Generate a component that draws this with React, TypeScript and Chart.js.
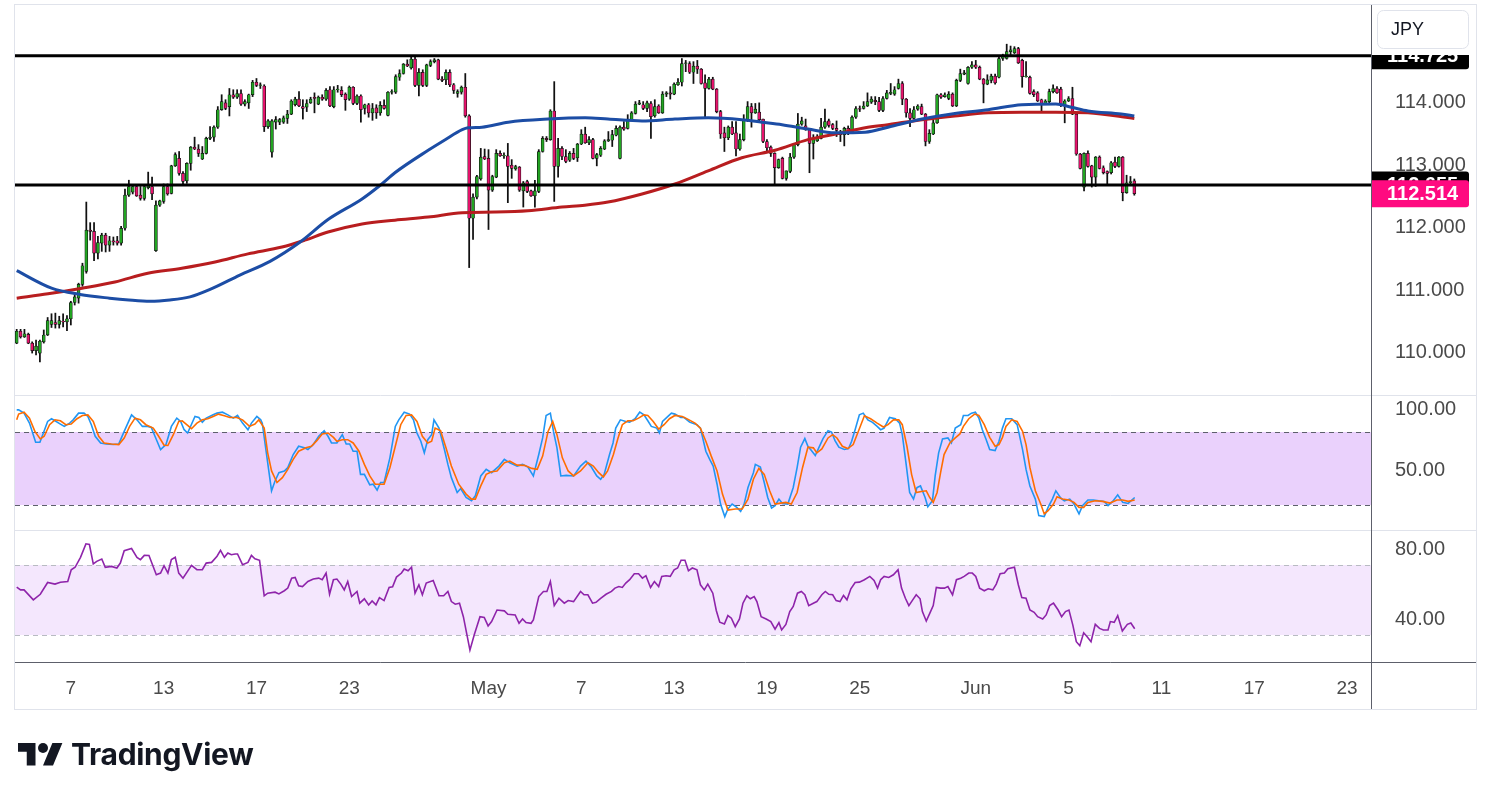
import React, { useEffect, useRef } from 'react';
import { Chart, registerables } from 'chart.js';

Chart.register(...registerables);

// ---------- 4h candles (index 0 = first visible bar) ----------
const candleOpen = [
  110.12, 110.31, 110.22, 110.26, 110.12, 110.00, 109.96, 110.14, 110.25, 110.42,
  110.45, 110.42, 110.47, 110.46, 110.51, 110.77, 110.84, 111.06, 111.27, 111.93,
  111.91, 111.56, 111.72, 111.85, 111.69, 111.76, 111.76, 111.72, 111.96, 112.49,
  112.54, 112.63, 112.49, 112.44, 112.61, 112.63, 111.60, 112.33, 112.39, 112.63,
  112.52, 112.96, 113.08, 112.84, 112.72, 113.00, 113.26, 113.23, 113.07, 113.16,
  113.40, 113.42, 113.58, 113.86, 113.97, 113.91, 114.10, 114.06, 114.12, 113.95,
  113.97, 114.10, 114.30, 114.25, 114.24, 113.59, 113.18, 113.66, 113.66, 113.66,
  113.72, 113.79, 113.94, 114.03, 113.91, 113.90, 113.97, 114.06, 113.95, 114.06,
  114.03, 114.18, 113.91, 114.18, 114.17, 114.11, 114.03, 114.22, 113.96, 114.08,
  113.88, 113.94, 113.81, 113.89, 113.81, 113.93, 113.77, 114.14, 114.14, 114.38,
  114.44, 114.59, 114.53, 114.67, 114.25, 114.46, 114.25, 114.57, 114.63, 114.66,
  114.35, 114.34, 114.46, 114.26, 114.12, 114.14, 114.22, 113.76, 112.12, 112.46,
  112.75, 113.11, 113.08, 112.57, 112.78, 113.16, 113.12, 113.12, 112.97, 112.91,
  112.94, 112.56, 112.71, 112.56, 112.48, 112.55, 113.19, 113.40, 113.38, 113.84,
  112.95, 113.24, 113.11, 113.05, 113.16, 113.09, 113.31, 113.47, 113.33, 113.38,
  113.08, 113.13, 113.23, 113.36, 113.37, 113.45, 113.08, 113.58, 113.56, 113.70,
  113.80, 113.95, 113.94, 113.88, 113.96, 113.76, 113.92, 113.81, 114.11, 114.13,
  114.11, 114.26, 114.30, 114.60, 114.60, 114.46, 114.56, 114.51, 114.29, 114.20,
  114.35, 114.19, 113.83, 113.49, 113.41, 113.58, 113.49, 113.23, 113.38, 113.69,
  113.91, 113.81, 113.82, 113.71, 113.35, 113.26, 113.16, 112.93, 113.08, 112.76,
  112.87, 113.10, 113.30, 113.63, 113.60, 113.55, 113.32, 113.36, 113.40, 113.58,
  113.68, 113.62, 113.56, 113.49, 113.46, 113.56, 113.50, 113.74, 113.88, 113.88,
  113.92, 113.98, 114.01, 113.99, 113.85, 114.04, 114.12, 114.11, 114.20, 114.28,
  114.03, 113.81, 113.72, 113.87, 113.91, 113.79, 113.35, 113.47, 113.65, 114.10,
  114.07, 114.04, 114.11, 113.92, 114.33, 114.43, 114.28, 114.54, 114.58, 114.54,
  114.35, 114.27, 114.33, 114.40, 114.38, 114.68, 114.68, 114.79, 114.77, 114.84,
  114.65, 114.39, 114.38, 114.15, 114.13, 114.02, 113.96, 113.99, 114.15, 114.20,
  114.19, 113.93, 114.00, 114.04, 113.79, 113.15, 112.62, 113.16, 112.96, 112.78,
  113.10, 112.93, 112.87, 112.85, 113.02, 112.95, 113.10, 112.53, 112.69, 112.72,
];
const candleHigh = [
  110.34, 110.34, 110.34, 110.28, 110.14, 110.17, 110.17, 110.33, 110.53, 110.59,
  110.60, 110.55, 110.59, 110.56, 110.79, 110.92, 111.08, 111.40, 112.38, 112.05,
  112.05, 111.83, 111.88, 111.88, 111.83, 111.82, 111.83, 111.99, 112.59, 112.73,
  112.65, 112.65, 112.63, 112.65, 112.86, 112.78, 112.40, 112.41, 112.67, 112.67,
  112.97, 113.17, 113.19, 112.87, 113.01, 113.27, 113.42, 113.30, 113.27, 113.42,
  113.59, 113.60, 113.91, 114.10, 114.02, 114.20, 114.18, 114.18, 114.18, 114.02,
  114.11, 114.33, 114.36, 114.29, 114.26, 113.70, 113.70, 113.75, 113.72, 113.76,
  113.85, 114.02, 114.06, 114.15, 114.02, 114.02, 114.06, 114.13, 114.08, 114.10,
  114.20, 114.23, 114.23, 114.25, 114.23, 114.13, 114.24, 114.23, 114.10, 114.10,
  113.95, 113.96, 113.96, 113.94, 113.99, 114.02, 114.15, 114.18, 114.42, 114.50,
  114.60, 114.66, 114.71, 114.71, 114.52, 114.50, 114.59, 114.66, 114.68, 114.67,
  114.39, 114.50, 114.50, 114.28, 114.18, 114.24, 114.44, 113.78, 112.51, 112.81,
  113.24, 113.23, 113.22, 112.81, 113.22, 113.20, 113.17, 113.32, 113.06, 112.97,
  112.95, 112.71, 112.73, 112.57, 112.73, 113.22, 113.43, 113.43, 113.86, 114.31,
  113.40, 113.27, 113.22, 113.19, 113.24, 113.32, 113.54, 113.58, 113.43, 113.40,
  113.16, 113.27, 113.38, 113.51, 113.53, 113.60, 113.60, 113.67, 113.78, 113.83,
  113.99, 114.01, 113.99, 114.00, 113.99, 114.02, 113.94, 114.15, 114.15, 114.23,
  114.29, 114.36, 114.68, 114.65, 114.63, 114.63, 114.65, 114.52, 114.42, 114.38,
  114.38, 114.20, 113.85, 113.58, 113.60, 113.67, 113.67, 113.47, 113.78, 113.99,
  113.96, 113.96, 113.97, 113.71, 113.38, 113.28, 113.17, 113.07, 113.10, 112.88,
  113.16, 113.31, 113.80, 113.74, 113.71, 113.56, 113.46, 113.46, 113.72, 113.87,
  113.71, 113.64, 113.68, 113.53, 113.58, 113.60, 113.76, 113.91, 113.92, 113.99,
  114.13, 114.07, 114.07, 114.06, 114.07, 114.17, 114.28, 114.23, 114.35, 114.31,
  114.04, 113.88, 113.91, 113.94, 113.95, 113.80, 113.54, 113.70, 114.11, 114.12,
  114.13, 114.15, 114.13, 114.35, 114.51, 114.49, 114.55, 114.63, 114.65, 114.56,
  114.36, 114.42, 114.43, 114.43, 114.72, 114.75, 114.91, 114.88, 114.87, 114.86,
  114.67, 114.63, 114.40, 114.18, 114.15, 114.03, 114.02, 114.19, 114.26, 114.23,
  114.22, 114.02, 114.07, 114.22, 113.80, 113.16, 113.17, 113.20, 112.97, 113.11,
  113.12, 112.96, 112.88, 113.03, 113.10, 113.11, 113.11, 112.81, 112.79, 112.75,
];
const candleLow = [
  110.11, 110.20, 110.21, 110.11, 109.96, 109.93, 109.82, 110.12, 110.24, 110.37,
  110.36, 110.36, 110.38, 110.32, 110.41, 110.73, 110.76, 111.03, 111.24, 111.77,
  111.44, 111.47, 111.59, 111.58, 111.59, 111.69, 111.69, 111.69, 111.93, 112.47,
  112.51, 112.47, 112.41, 112.41, 112.59, 112.42, 111.59, 112.31, 112.36, 112.49,
  112.51, 112.95, 112.81, 112.67, 112.68, 112.89, 113.22, 113.11, 113.06, 113.15,
  113.38, 113.35, 113.56, 113.85, 113.86, 113.76, 114.04, 114.04, 113.93, 113.92,
  113.88, 114.07, 114.23, 114.20, 113.51, 113.56, 113.10, 113.55, 113.62, 113.64,
  113.64, 113.78, 113.92, 113.91, 113.71, 113.83, 113.96, 113.81, 113.94, 114.01,
  114.01, 113.91, 113.89, 114.14, 114.07, 113.85, 114.01, 113.94, 113.94, 113.66,
  113.79, 113.74, 113.69, 113.72, 113.77, 113.87, 113.76, 114.11, 114.12, 114.33,
  114.43, 114.55, 114.51, 114.23, 114.08, 114.23, 114.23, 114.55, 114.61, 114.34,
  114.31, 114.26, 114.23, 114.12, 114.06, 114.11, 113.74, 111.33, 111.78, 112.43,
  112.73, 113.06, 111.94, 112.55, 112.77, 113.11, 113.08, 112.37, 112.76, 112.89,
  112.55, 112.30, 112.53, 112.47, 112.30, 112.53, 113.18, 113.35, 113.37, 112.39,
  112.78, 113.06, 113.01, 113.03, 113.06, 113.03, 113.30, 113.32, 113.30, 113.07,
  112.96, 113.11, 113.22, 113.35, 113.27, 113.44, 113.07, 113.53, 113.55, 113.69,
  113.79, 113.94, 113.86, 113.83, 113.40, 113.74, 113.80, 113.80, 114.07, 114.03,
  114.10, 114.25, 114.24, 114.47, 114.44, 114.28, 114.44, 114.27, 113.75, 114.19,
  114.18, 113.81, 113.40, 113.19, 113.38, 113.46, 113.12, 113.21, 113.36, 113.67,
  113.58, 113.80, 113.68, 113.33, 113.17, 113.11, 112.67, 112.92, 112.75, 112.73,
  112.85, 113.08, 113.28, 113.61, 113.53, 112.85, 113.07, 113.35, 113.39, 113.56,
  113.58, 113.54, 113.43, 113.35, 113.28, 113.46, 113.48, 113.72, 113.83, 113.87,
  113.91, 113.96, 113.94, 113.83, 113.83, 114.03, 114.10, 114.09, 114.19, 113.94,
  113.74, 113.59, 113.71, 113.85, 113.78, 113.28, 113.32, 113.46, 113.64, 114.04,
  114.06, 114.02, 113.91, 113.91, 114.31, 114.42, 114.27, 114.52, 114.52, 114.34,
  113.97, 114.26, 114.29, 114.27, 114.37, 114.65, 114.67, 114.74, 114.76, 114.60,
  114.22, 114.38, 114.11, 114.07, 113.99, 113.83, 113.95, 113.97, 114.13, 114.12,
  113.91, 113.65, 113.99, 113.78, 113.13, 112.91, 112.56, 112.94, 112.62, 112.63,
  112.91, 112.83, 112.67, 112.83, 112.93, 112.94, 112.40, 112.52, 112.67, 112.49,
];
const candleClose = [
  110.31, 110.22, 110.27, 110.12, 110.00, 110.07, 110.15, 110.25, 110.48, 110.48,
  110.42, 110.48, 110.46, 110.51, 110.77, 110.86, 111.06, 111.36, 111.93, 111.91,
  111.56, 111.73, 111.85, 111.69, 111.76, 111.74, 111.72, 111.96, 112.49, 112.63,
  112.63, 112.48, 112.44, 112.63, 112.64, 112.51, 112.33, 112.40, 112.63, 112.51,
  112.96, 113.14, 112.84, 112.71, 113.00, 113.26, 113.23, 113.16, 113.16, 113.40,
  113.42, 113.58, 113.86, 113.99, 113.88, 114.10, 114.06, 114.12, 113.95, 113.99,
  114.10, 114.30, 114.25, 114.26, 113.59, 113.68, 113.68, 113.70, 113.70, 113.73,
  113.79, 114.00, 114.03, 113.92, 113.88, 113.96, 114.03, 114.04, 114.06, 114.03,
  114.17, 113.92, 114.18, 114.19, 114.10, 114.02, 114.22, 113.96, 114.08, 113.86,
  113.94, 113.81, 113.88, 113.81, 113.93, 113.88, 114.14, 114.15, 114.39, 114.44,
  114.59, 114.56, 114.67, 114.25, 114.46, 114.25, 114.58, 114.63, 114.66, 114.35,
  114.33, 114.46, 114.26, 114.17, 114.15, 114.22, 113.76, 112.12, 112.46, 112.79,
  113.10, 113.07, 112.57, 112.79, 113.16, 113.12, 113.13, 112.95, 112.92, 112.95,
  112.57, 112.69, 112.55, 112.48, 112.56, 113.19, 113.40, 113.38, 113.84, 112.95,
  113.24, 113.11, 113.03, 113.16, 113.08, 113.31, 113.47, 113.33, 113.38, 113.08,
  113.14, 113.24, 113.36, 113.38, 113.46, 113.56, 113.58, 113.55, 113.71, 113.81,
  113.95, 113.97, 113.88, 113.97, 113.75, 113.91, 113.81, 114.11, 114.13, 114.11,
  114.27, 114.30, 114.60, 114.61, 114.46, 114.56, 114.51, 114.28, 114.20, 114.35,
  114.19, 113.83, 113.47, 113.41, 113.58, 113.47, 113.23, 113.38, 113.70, 113.91,
  113.81, 113.87, 113.70, 113.35, 113.25, 113.16, 112.93, 113.06, 112.76, 112.88,
  113.10, 113.30, 113.63, 113.68, 113.54, 113.32, 113.38, 113.41, 113.58, 113.67,
  113.61, 113.56, 113.53, 113.46, 113.56, 113.47, 113.74, 113.88, 113.87, 113.92,
  113.99, 114.03, 113.99, 113.85, 114.04, 114.13, 114.14, 114.18, 114.28, 114.03,
  113.81, 113.72, 113.86, 113.92, 113.79, 113.35, 113.48, 113.65, 114.10, 114.06,
  114.10, 114.11, 113.92, 114.33, 114.44, 114.45, 114.54, 114.58, 114.54, 114.35,
  114.27, 114.34, 114.40, 114.29, 114.68, 114.72, 114.79, 114.82, 114.84, 114.61,
  114.39, 114.40, 114.12, 114.10, 114.00, 113.96, 114.00, 114.15, 114.20, 114.13,
  113.93, 114.00, 114.04, 113.79, 113.15, 112.92, 113.16, 112.95, 112.78, 113.10,
  112.92, 112.85, 112.84, 113.01, 112.95, 113.10, 112.53, 112.69, 112.71, 112.514,
];

// ---------- moving averages (bar index, price) ----------
const blueMaIdx = [0, 9, 16.4, 24, 29, 34.5, 39.6, 44.8, 50, 57.7, 65.5, 73.3, 80.5, 89.3, 94, 97.8, 106.4, 110.8, 115.2, 116.7, 120.3, 127.1, 137.4, 147, 152.9, 161.7, 170.2, 178.8, 187.5, 192.7, 197.9, 204.6, 211.6, 219.4, 225.3, 234.1, 242.6, 251.2, 259.9, 268.7, 272.7, 277, 285.6, 289];
const blueMa = [111.28, 111.00, 110.90, 110.84, 110.81, 110.79, 110.81, 110.86, 110.98, 111.21, 111.43, 111.74, 112.10, 112.43, 112.65, 112.85, 113.21, 113.38, 113.54, 113.57, 113.58, 113.66, 113.71, 113.73, 113.71, 113.68, 113.71, 113.73, 113.70, 113.66, 113.62, 113.55, 113.49, 113.50, 113.58, 113.71, 113.80, 113.86, 113.94, 113.95, 113.90, 113.84, 113.79, 113.76];
const redMaIdx = [0, 8.1, 16.9, 25.4, 33.9, 42.7, 51.3, 59.8, 68.6, 74.5, 80.5, 89.3, 97.8, 106.4, 115.2, 123.7, 132.2, 141, 146.9, 152.9, 161.7, 170.2, 178.8, 187.5, 196.1, 204.6, 213.4, 219.4, 225.3, 234.1, 242.6, 251.2, 259.9, 268.7, 277, 289];
const redMa = [110.84, 110.91, 111.00, 111.10, 111.24, 111.32, 111.42, 111.55, 111.66, 111.77, 111.90, 112.03, 112.09, 112.14, 112.21, 112.22, 112.24, 112.30, 112.33, 112.38, 112.51, 112.67, 112.88, 113.09, 113.21, 113.38, 113.49, 113.57, 113.62, 113.70, 113.76, 113.81, 113.82, 113.82, 113.81, 113.72];

// ---------- stochastic ----------
const stochKIdx = [0, 0.5, 1.9, 3.3, 4.9, 6.0, 6.9, 8.0, 9.0, 9.9, 11.3, 12.3, 13.7, 14.6, 16.0, 17.4, 18.4, 19.3, 20.3, 21.7, 23.1, 25.0, 26.4, 27.8, 29.7, 31.1, 32.5, 33.9, 34.8, 36.3, 37.2, 38.6, 40.0, 41.4, 42.4, 43.3, 44.2, 46.1, 47.1, 48.0, 49.0, 50.8, 51.8, 53.2, 54.6, 56.0, 57.1, 58.4, 59.8, 60.7, 62.1, 63.1, 63.5, 65.9, 66.8, 67.8, 69.2, 70.1, 71.5, 72.9, 74.4, 75.3, 76.7, 78.1, 79.5, 80.5, 81.4, 82.8, 84.2, 85.2, 86.1, 87.0, 88.0, 88.9, 89.9, 91.3, 92.2, 93.2, 94.1, 95.0, 96.5, 97.9, 98.8, 100.2, 101.6, 102.6, 103.5, 104.5, 105.4, 106.3, 107.3, 107.9, 109.2, 110.6, 111.5, 112.4, 113.9, 114.8, 116.2, 117.6, 118.6, 120.0, 121.4, 122.8, 124.7, 126.1, 127.5, 129.4, 130.8, 132.2, 133.6, 135.0, 136.0, 136.9, 138.0, 138.8, 139.7, 140.7, 142.1, 144.0, 145.8, 147.2, 148.6, 150.0, 151.0, 151.9, 153.3, 154.2, 154.9, 156.1, 157.5, 158.5, 159.9, 161.1, 162.2, 163.2, 164.1, 165.5, 166.2, 167.0, 168.4, 169.3, 170.2, 171.7, 172.6, 174.0, 175.9, 176.8, 178.2, 179.2, 180.1, 181.1, 182.0, 183.1, 183.9, 185.0, 186.2, 187.2, 188.1, 189.1, 190.5, 191.0, 192.3, 193.3, 194.2, 195.2, 196.1, 197.1, 198.0, 199.4, 200.8, 201.8, 202.7, 203.8, 204.6, 205.5, 206.5, 207.4, 208.5, 209.8, 210.7, 211.6, 212.6, 214.0, 215.1, 215.9, 216.8, 217.9, 218.9, 220.1, 221.3, 222.5, 223.4, 224.3, 225.7, 227.2, 228.3, 229.0, 230.0, 230.9, 231.9, 232.8, 233.7, 234.9, 235.6, 236.8, 237.5, 238.4, 239.4, 240.8, 241.7, 242.7, 244.1, 244.8, 246.0, 246.9, 247.9, 248.8, 249.7, 250.7, 251.6, 253.0, 254.0, 254.9, 255.8, 257.3, 258.7, 260.1, 261.0, 262.0, 263.4, 264.3, 265.7, 266.7, 267.8, 268.7, 270.0, 270.9, 272.3, 273.4, 274.7, 275.6, 277.0, 278.4, 279.8, 281.2, 282.2, 283.4, 284.7, 286.0, 287.4, 289.1];
const stochK = [98.2, 98.2, 95.5, 87.3, 71.6, 71.6, 79.2, 88.7, 90.9, 89.2, 86.5, 84.6, 87.3, 90.0, 95.5, 95.5, 92.8, 86.0, 76.5, 71.0, 70.2, 69.7, 70.2, 80.5, 94.1, 90.0, 84.6, 84.6, 83.8, 72.4, 65.6, 69.7, 84.6, 91.4, 88.7, 81.9, 79.2, 92.8, 91.9, 88.1, 91.4, 94.1, 95.5, 96.3, 94.1, 91.4, 93.6, 87.3, 81.9, 87.3, 92.8, 90.0, 87.3, 31.7, 39.8, 46.6, 48.0, 50.7, 61.5, 68.3, 67.0, 65.6, 69.7, 76.5, 81.1, 76.5, 71.0, 71.0, 77.8, 70.2, 70.2, 64.2, 64.2, 45.2, 45.2, 36.6, 37.1, 32.2, 38.5, 38.5, 58.8, 84.6, 90.0, 96.3, 94.7, 90.0, 79.2, 72.4, 62.9, 73.7, 77.8, 90.0, 83.2, 65.6, 53.4, 42.5, 30.3, 33.6, 26.2, 23.5, 27.6, 43.9, 49.3, 46.6, 52.0, 57.5, 54.7, 52.0, 53.4, 51.2, 43.9, 61.5, 75.1, 93.6, 95.5, 80.5, 67.0, 43.9, 44.4, 43.9, 52.0, 56.1, 51.2, 43.9, 41.2, 45.2, 61.5, 71.0, 83.2, 90.0, 88.7, 88.1, 90.9, 96.3, 94.1, 89.2, 84.6, 83.2, 79.2, 88.7, 92.8, 95.5, 94.7, 91.9, 91.9, 88.1, 86.0, 83.2, 64.2, 57.5, 52.0, 37.1, 20.8, 10.5, 16.7, 20.8, 18.1, 14.8, 20.8, 34.4, 46.6, 53.4, 51.2, 38.5, 26.2, 17.5, 19.5, 24.9, 21.3, 20.8, 34.4, 50.7, 67.5, 74.6, 68.3, 64.8, 60.7, 67.0, 74.6, 81.1, 80.0, 72.9, 67.5, 65.6, 66.4, 72.4, 81.9, 94.1, 95.5, 90.0, 87.9, 84.6, 81.9, 83.2, 91.9, 90.9, 87.3, 77.8, 53.4, 30.3, 24.9, 34.4, 35.7, 26.2, 18.6, 23.5, 43.9, 62.9, 74.3, 75.1, 71.0, 83.2, 86.0, 93.6, 93.6, 95.5, 96.3, 91.4, 81.9, 73.7, 65.6, 64.8, 72.4, 83.2, 90.9, 90.9, 86.0, 65.6, 49.3, 35.7, 24.9, 11.3, 10.5, 18.1, 24.9, 31.7, 25.7, 23.5, 24.9, 20.8, 12.7, 19.5, 24.1, 24.1, 23.5, 23.0, 19.5, 23.0, 28.4, 22.2, 21.3, 26.2];
const stochDIdx = [0, 0.5, 1.9, 3.3, 4.7, 6.1, 7.1, 8.5, 9.9, 11.3, 12.7, 14.1, 15.6, 17.0, 18.4, 19.8, 21.2, 22.6, 24.5, 26.4, 27.8, 29.2, 30.6, 32.0, 33.4, 35.3, 36.7, 38.1, 39.1, 40.5, 41.9, 42.8, 44.2, 45.2, 46.6, 48.0, 49.4, 50.8, 52.2, 53.7, 55.1, 56.9, 58.4, 60.2, 61.6, 62.6, 64.0, 64.9, 65.9, 67.3, 68.7, 70.1, 71.5, 72.9, 74.8, 76.2, 77.6, 79.0, 80.5, 81.9, 82.8, 84.2, 85.6, 87.0, 88.5, 89.9, 91.3, 92.7, 94.1, 95.0, 96.5, 97.9, 99.3, 100.7, 102.1, 103.5, 104.9, 106.3, 107.3, 108.2, 109.6, 111.0, 112.4, 114.3, 116.2, 117.6, 118.6, 120.0, 121.4, 122.8, 124.2, 126.1, 127.5, 129.4, 131.3, 133.2, 134.6, 136.0, 137.4, 138.6, 139.7, 141.1, 142.6, 144.0, 145.8, 147.7, 149.1, 150.5, 151.7, 152.8, 154.3, 155.5, 156.6, 158.0, 159.4, 160.8, 162.2, 163.2, 164.6, 166.0, 167.4, 168.8, 170.2, 172.1, 173.5, 175.4, 176.8, 178.2, 179.6, 181.1, 182.5, 183.9, 185.8, 187.6, 189.1, 190.5, 191.9, 193.3, 194.7, 196.1, 197.5, 198.9, 200.3, 201.8, 203.2, 204.6, 206.0, 206.9, 208.2, 209.8, 211.0, 212.1, 213.5, 214.9, 216.3, 217.8, 219.2, 220.8, 222.5, 224.1, 225.3, 226.7, 228.1, 229.0, 230.2, 231.4, 232.6, 233.9, 235.2, 236.1, 237.0, 238.0, 238.9, 239.8, 241.3, 242.7, 243.9, 244.8, 246.2, 247.7, 248.8, 250.2, 251.6, 253.0, 254.0, 254.9, 255.8, 257.3, 258.7, 260.1, 261.0, 262.0, 263.4, 264.8, 265.7, 266.7, 268.1, 269.0, 270.4, 272.1, 273.4, 274.7, 275.9, 277.0, 278.9, 280.8, 282.7, 284.5, 286.0, 287.4, 289.1];
const stochD = [90.0, 94.7, 96.3, 91.4, 80.5, 74.3, 76.5, 86.0, 90.0, 89.2, 86.0, 86.5, 90.9, 93.6, 94.1, 88.7, 76.5, 71.0, 70.2, 69.7, 75.1, 84.6, 91.4, 90.0, 86.0, 83.2, 76.5, 69.1, 68.9, 77.8, 88.7, 89.2, 85.4, 82.7, 87.3, 90.0, 90.9, 92.8, 94.7, 93.3, 91.9, 91.9, 90.0, 84.6, 86.5, 90.0, 83.2, 62.9, 48.0, 38.5, 42.5, 49.3, 57.5, 64.2, 67.0, 68.3, 72.9, 78.4, 79.2, 75.6, 72.4, 73.7, 73.7, 71.0, 64.2, 53.4, 43.9, 37.1, 37.1, 37.1, 50.7, 68.3, 86.0, 93.6, 94.1, 88.7, 76.5, 71.0, 72.4, 83.2, 81.1, 67.0, 52.0, 37.1, 29.0, 24.9, 24.9, 35.7, 45.2, 47.4, 48.0, 54.7, 56.1, 52.8, 52.6, 50.1, 49.3, 60.2, 80.5, 88.7, 77.8, 58.8, 48.0, 43.9, 48.0, 54.7, 52.0, 46.6, 43.1, 48.0, 61.5, 75.1, 86.0, 89.2, 89.2, 91.4, 94.1, 93.6, 88.7, 82.4, 86.0, 90.9, 93.6, 92.8, 90.6, 87.3, 83.2, 72.4, 60.2, 48.0, 29.0, 15.9, 16.7, 16.7, 24.9, 41.2, 50.1, 45.2, 31.7, 20.8, 21.6, 22.2, 20.8, 30.3, 50.7, 67.5, 67.0, 62.9, 66.1, 75.1, 77.8, 75.1, 68.3, 66.4, 69.7, 81.9, 93.3, 90.9, 87.3, 84.1, 86.0, 90.0, 90.0, 86.0, 68.3, 45.2, 30.3, 31.1, 31.7, 26.2, 22.2, 30.3, 46.6, 61.5, 71.0, 75.1, 78.4, 84.6, 90.9, 94.7, 93.6, 86.0, 75.6, 68.3, 69.7, 75.6, 84.6, 90.0, 88.7, 80.5, 69.7, 50.7, 31.7, 20.8, 12.7, 15.4, 20.8, 26.8, 24.9, 24.1, 22.2, 18.1, 18.1, 22.2, 23.5, 23.0, 21.6, 24.1, 24.1, 23.0, 24.1];

// ---------- RSI ----------
const rsiIdx = [0, 1.0, 1.9, 4.3, 6.1, 8.0, 9.9, 11.3, 13.2, 14.1, 15.1, 16.5, 17.9, 18.8, 19.8, 20.7, 22.0, 22.9, 24.5, 25.9, 26.8, 27.8, 29.7, 31.1, 32.0, 33.0, 34.2, 36.1, 37.2, 38.1, 39.1, 40.0, 41.0, 41.9, 43.0, 45.2, 46.6, 48.0, 49.0, 50.4, 51.8, 52.7, 53.7, 54.6, 55.5, 56.5, 57.1, 58.4, 59.8, 60.7, 61.6, 62.8, 64.0, 64.9, 66.8, 67.8, 69.2, 70.1, 71.1, 72.0, 72.9, 73.9, 75.3, 76.7, 78.1, 79.0, 80.0, 80.9, 81.9, 82.8, 83.8, 84.7, 85.6, 86.6, 88.0, 88.7, 89.9, 91.0, 91.9, 92.9, 93.8, 95.0, 96.3, 97.2, 98.2, 99.5, 100.2, 101.2, 102.1, 103.0, 104.0, 104.9, 105.9, 107.7, 109.2, 110.4, 111.5, 112.4, 113.4, 114.5, 115.5, 117.2, 118.3, 119.8, 120.9, 121.9, 122.8, 124.2, 126.1, 127.0, 128.9, 129.9, 130.8, 131.7, 133.0, 133.6, 135.0, 136.2, 137.1, 138.0, 139.0, 140.2, 141.6, 142.6, 144.0, 145.8, 146.7, 147.7, 148.9, 149.8, 151.0, 152.4, 153.8, 154.7, 155.7, 156.6, 157.5, 158.5, 159.7, 160.8, 161.8, 162.7, 163.9, 164.9, 166.0, 166.8, 167.9, 169.0, 170.0, 170.9, 171.8, 172.8, 173.7, 174.7, 175.9, 176.8, 177.8, 178.7, 180.0, 180.9, 181.8, 183.0, 183.9, 184.8, 185.8, 186.9, 187.8, 188.8, 189.7, 190.7, 191.4, 192.5, 193.8, 195.0, 196.1, 197.1, 197.8, 198.9, 199.9, 200.8, 201.9, 202.9, 203.8, 204.8, 206.0, 206.9, 208.2, 209.1, 210.0, 211.0, 211.9, 212.9, 213.8, 214.7, 215.7, 216.8, 217.9, 219.2, 220.6, 221.7, 222.6, 223.4, 224.3, 225.5, 226.7, 227.9, 228.8, 229.8, 230.7, 231.7, 232.6, 233.6, 234.2, 235.2, 236.1, 237.0, 237.8, 238.9, 239.9, 240.8, 242.0, 243.0, 244.1, 245.0, 246.2, 247.1, 248.0, 249.0, 250.2, 251.2, 252.4, 253.3, 254.3, 255.4, 256.3, 258.0, 259.0, 259.9, 261.0, 262.0, 263.1, 264.0, 265.3, 266.2, 267.1, 268.1, 269.3, 270.2, 271.2, 272.1, 273.1, 274.0, 274.9, 275.9, 276.8, 277.8, 278.9, 280.0, 281.0, 282.2, 282.8, 283.8, 284.7, 285.9, 287.2, 288.1, 289.1];
const rsiVals = [57.4, 55.8, 55.8, 50.1, 53.3, 60.0, 59.1, 60.2, 60.6, 67.3, 68.7, 74.4, 82.1, 81.7, 70.6, 72.1, 73.4, 68.7, 69.2, 68.3, 71.1, 78.2, 79.4, 74.4, 73.1, 75.5, 75.4, 64.4, 65.4, 69.6, 65.4, 73.1, 74.4, 65.4, 62.5, 69.8, 67.3, 67.3, 71.1, 71.5, 75.0, 78.4, 74.4, 76.9, 75.9, 76.3, 76.3, 70.2, 71.5, 75.5, 73.6, 72.7, 52.4, 53.9, 54.5, 53.5, 55.3, 56.8, 62.5, 62.9, 58.1, 57.7, 60.6, 62.0, 62.5, 61.6, 65.4, 53.3, 61.6, 62.0, 59.1, 55.8, 60.6, 52.0, 54.9, 48.2, 50.7, 47.2, 49.5, 47.2, 51.4, 49.7, 57.2, 57.6, 63.1, 65.4, 67.7, 66.7, 68.7, 53.9, 58.7, 53.0, 59.7, 61.2, 52.4, 52.4, 54.9, 49.1, 47.6, 48.2, 40.5, 21.4, 30.0, 40.5, 40.1, 35.2, 37.7, 44.3, 43.8, 41.9, 41.5, 36.7, 39.2, 37.1, 36.7, 38.6, 52.0, 54.9, 54.9, 60.6, 46.8, 51.0, 48.2, 49.7, 49.1, 54.9, 53.0, 53.0, 48.2, 48.7, 51.0, 53.3, 54.9, 56.8, 57.7, 57.2, 59.7, 61.6, 65.0, 65.0, 62.5, 63.9, 57.2, 60.6, 57.7, 63.5, 63.9, 63.5, 67.3, 68.3, 72.7, 72.7, 66.7, 68.3, 67.3, 58.7, 55.8, 59.1, 53.9, 44.0, 37.3, 36.3, 41.1, 39.6, 34.8, 39.2, 48.2, 52.4, 50.7, 52.0, 49.1, 40.5, 39.2, 37.7, 33.4, 37.1, 32.9, 36.1, 43.4, 46.3, 53.9, 54.9, 53.0, 46.8, 48.2, 49.1, 53.0, 54.9, 53.3, 53.0, 49.7, 49.1, 52.6, 50.1, 56.4, 60.0, 60.2, 61.6, 63.5, 61.2, 56.8, 61.6, 63.5, 62.9, 64.4, 67.3, 56.8, 51.0, 46.8, 50.1, 53.0, 50.7, 43.4, 38.0, 42.4, 46.8, 57.2, 56.8, 56.8, 57.7, 53.0, 61.6, 62.5, 63.5, 65.4, 65.4, 63.5, 56.8, 55.3, 56.4, 55.8, 59.1, 65.0, 65.4, 67.9, 68.7, 58.7, 51.4, 51.0, 44.3, 43.0, 40.5, 39.2, 41.5, 46.8, 48.2, 44.3, 40.5, 43.4, 44.3, 35.7, 26.2, 23.9, 31.3, 29.0, 26.2, 36.1, 33.8, 32.9, 32.9, 37.7, 37.3, 41.1, 32.3, 36.1, 36.9, 33.6];

// ---------- axes / levels ----------
const dayTickIdx = [14, 38, 62, 86, 122, 146, 170, 194, 218, 248, 272, 296, 320, 344];
const dayTickLabels = ['7', '13', '17', '23', 'May', '7', '13', '19', '25', 'Jun', '5', '11', '17', '23'];
const priceTicks = [110, 111, 112, 113, 114];
const stochTicks = [50, 100];
const rsiTicks = [40, 80];
const resistanceLevel = 114.725;
const supportLevel = 112.655;
const lastPrice = 112.514;
const stochBand = [20, 80];
const rsiBand = [30, 70];
const currencyLabel = 'JPY';

const X_MIN = -0.44;
const X_MAX = 350.2;
const FONT = "'Liberation Sans', Arial, sans-serif";
const AXIS_TEXT = '#4A4A4A';
const AXIS_W = 105;
const XAXIS_H = 47;
const UP = '#22A522';
const DOWN = '#E8136D';
const PINK_TAG = '#FF0A80';

function hLine(ctx: CanvasRenderingContext2D, x0: number, x1: number, y: number) {
  ctx.beginPath();
  ctx.moveTo(x0, y);
  ctx.lineTo(x1, y);
  ctx.stroke();
}

function rrect(ctx: CanvasRenderingContext2D, x: number, y: number, w: number, h: number, r: number[] | number) {
  ctx.beginPath();
  if ((ctx as any).roundRect) (ctx as any).roundRect(x, y, w, h, r);
  else ctx.rect(x, y, w, h);
}

const panePlugin = {
  id: 'tvPanes',
  beforeDatasetsDraw(chart: any) {
    const { ctx, chartArea: ca, scales } = chart;
    const ys = scales.yStoch;
    const yr = scales.yRsi;
    const w = ca.right - ca.left;
    ctx.save();
    const sTop = ys.getPixelForValue(stochBand[1]);
    const sBot = ys.getPixelForValue(stochBand[0]);
    ctx.fillStyle = '#EAD1FC';
    ctx.fillRect(ca.left, sTop, w, sBot - sTop);
    const rTop = yr.getPixelForValue(rsiBand[1]);
    const rBot = yr.getPixelForValue(rsiBand[0]);
    ctx.fillStyle = '#F4E7FD';
    ctx.fillRect(ca.left, rTop, w, rBot - rTop);
    ctx.lineWidth = 1;
    ctx.setLineDash([5, 4]);
    ctx.strokeStyle = '#5D606B';
    hLine(ctx, ca.left, ca.right, Math.round(sTop) + 0.5);
    hLine(ctx, ca.left, ca.right, Math.round(sBot) + 0.5);
    ctx.strokeStyle = '#B8BBC2';
    hLine(ctx, ca.left, ca.right, Math.round(rTop) + 0.5);
    hLine(ctx, ca.left, ca.right, Math.round(rBot) + 0.5);
    ctx.restore();
  },
  afterDraw(chart: any) {
    const { ctx, chartArea: ca, scales } = chart;
    const right = ca.right + AXIS_W;
    const bottom = ca.bottom + XAXIS_H;
    ctx.save();
    ctx.lineWidth = 1;
    ctx.strokeStyle = '#E0E3EB';
    ctx.strokeRect(ca.left - 0.5, ca.top - 0.5, right - ca.left + 1, bottom - ca.top + 1);
    hLine(ctx, ca.left, right, Math.round(scales.yStoch.top) + 0.5);
    hLine(ctx, ca.left, right, Math.round(scales.yRsi.top) + 0.5);
    ctx.strokeStyle = '#5D606B';
    hLine(ctx, ca.left, right, Math.round(ca.bottom) + 0.5);
    ctx.beginPath();
    ctx.moveTo(Math.round(ca.right) + 0.5, ca.top);
    ctx.lineTo(Math.round(ca.right) + 0.5, bottom);
    ctx.stroke();

    const y = scales.y;
    const tag = (value: number, color: string) => {
      const py = y.getPixelForValue(value);
      ctx.fillStyle = color;
      rrect(ctx, ca.right + 1, py - 13.5, 97, 27, [0, 3, 3, 0]);
      ctx.fill();
      ctx.fillStyle = '#FFFFFF';
      ctx.font = `bold 20px ${FONT}`;
      ctx.textAlign = 'left';
      ctx.textBaseline = 'middle';
      ctx.fillText(value.toFixed(3), ca.right + 16, py + 1);
    };
    tag(resistanceLevel, '#000000');
    ctx.fillStyle = '#FFFFFF';
    ctx.fillRect(ca.right + 1, ca.top, AXIS_W - 1, 50);
    ctx.fillStyle = '#FFFFFF';
    ctx.strokeStyle = '#E0E3EB';
    rrect(ctx, ca.right + 6.5, ca.top + 5.5, 91, 38, 6);
    ctx.fill();
    ctx.stroke();
    ctx.fillStyle = '#131722';
    ctx.font = `18px ${FONT}`;
    ctx.textAlign = 'left';
    ctx.textBaseline = 'middle';
    ctx.fillText(currencyLabel, ca.right + 20, ca.top + 25);
    tag(supportLevel, '#000000');
    tag(lastPrice, PINK_TAG);
    ctx.restore();
  },
};

function pts(xs: number[], ys: number[]) {
  return xs.map((x, i) => ({ x, y: ys[i] }));
}

export default function App() {
  const ref = useRef<HTMLCanvasElement>(null);

  useEffect(() => {
    document.body.style.margin = '0';
    const canvas = ref.current;
    if (!canvas) return;
    const idx = candleOpen.map((_, i) => i);
    const colors = idx.map((i) => (candleClose[i] >= candleOpen[i] ? UP : DOWN));

    const yAxisCommon = (ticks: number[], digits: number) => ({
      type: 'linear' as const,
      position: 'right' as const,
      stack: 'panes',
      grid: { display: false },
      border: { display: false },
      ticks: {
        padding: 16,
        labelOffset: 2,
        color: AXIS_TEXT,
        font: { size: 20, family: FONT },
        callback: (v: any) => Number(v).toFixed(digits),
      },
      afterBuildTicks: (s: any) => {
        s.ticks = ticks.map((v) => ({ value: v }));
      },
      afterFit: (s: any) => {
        s.width = AXIS_W;
        s.paddingTop = 0;
        s.paddingBottom = 0;
      },
    });

    const chart = new Chart(canvas, {
      type: 'bar',
      data: {
        datasets: [
          {
            type: 'line', label: 'Resistance', data: pts([X_MIN, X_MAX], [resistanceLevel, resistanceLevel]),
            borderColor: '#000', borderWidth: 3, pointRadius: 0, yAxisID: 'y', order: 0,
          } as any,
          {
            type: 'line', label: 'Support', data: pts([X_MIN, X_MAX], [supportLevel, supportLevel]),
            borderColor: '#000', borderWidth: 3, pointRadius: 0, yAxisID: 'y', order: 0,
          } as any,
          {
            type: 'line', label: 'MA fast', data: pts(blueMaIdx, blueMa),
            borderColor: '#1C4DA5', borderWidth: 3, pointRadius: 0, tension: 0.4,
            cubicInterpolationMode: 'monotone', yAxisID: 'y', order: 1,
          } as any,
          {
            type: 'line', label: 'MA slow', data: pts(redMaIdx, redMa),
            borderColor: '#B81D1F', borderWidth: 3, pointRadius: 0, tension: 0.4,
            cubicInterpolationMode: 'monotone', yAxisID: 'y', order: 1,
          } as any,
          {
            type: 'bar', label: 'Body', data: idx.map((i) => ({ x: i, y: [candleOpen[i], candleClose[i]] })),
            backgroundColor: colors, borderColor: '#111', borderWidth: 0.7, borderSkipped: false,
            barThickness: 3, grouped: false, yAxisID: 'y', order: 2,
          } as any,
          {
            type: 'bar', label: 'Wick', data: idx.map((i) => ({ x: i, y: [candleLow[i], candleHigh[i]] })),
            backgroundColor: '#111', borderWidth: 0, barThickness: 1.1, grouped: false, yAxisID: 'y', order: 3,
          } as any,
          {
            type: 'line', label: '%K', data: pts(stochKIdx, stochK),
            borderColor: '#2196F3', borderWidth: 1.6, pointRadius: 0, yAxisID: 'yStoch', order: 1,
          } as any,
          {
            type: 'line', label: '%D', data: pts(stochDIdx, stochD),
            borderColor: '#FF6D00', borderWidth: 1.6, pointRadius: 0, yAxisID: 'yStoch', order: 0,
          } as any,
          {
            type: 'line', label: 'RSI', data: pts(rsiIdx, rsiVals),
            borderColor: '#8E24AA', borderWidth: 1.6, pointRadius: 0, yAxisID: 'yRsi', order: 0,
          } as any,
        ],
      },
      options: {
        animation: false,
        responsive: false,
        layout: { padding: { left: 15, top: 5, right: 15, bottom: 91 } },
        plugins: { legend: { display: false }, tooltip: { enabled: false } },
        scales: {
          x: {
            type: 'linear',
            min: X_MIN,
            max: X_MAX,
            offset: false,
            grid: { display: false },
            border: { display: false },
            ticks: {
              autoSkip: false,
              maxRotation: 0,
              padding: 7,
              color: AXIS_TEXT,
              font: { size: 19, family: FONT },
              callback: (_v: any, i: number) => dayTickLabels[i],
            },
            afterBuildTicks: (s: any) => {
              s.ticks = dayTickIdx.map((v) => ({ value: v }));
            },
            afterFit: (s: any) => {
              s.height = XAXIS_H;
              s.paddingLeft = 0;
              s.paddingRight = 0;
            },
          },
          y: { ...yAxisCommon(priceTicks, 3), stackWeight: 390, min: 109.288, max: 115.538 },
          yStoch: { ...yAxisCommon(stochTicks, 2), stackWeight: 135, min: -0.5, max: 110.4 },
          yRsi: { ...yAxisCommon(rsiTicks, 2), stackWeight: 132, min: 14.6, max: 90 },
        } as any,
      },
      plugins: [panePlugin],
    });
    return () => chart.destroy();
  }, []);

  return (
    <div style={{ position: 'relative', width: 1491, height: 800, background: '#fff', overflow: 'hidden' }}>
      <canvas ref={ref} width={1491} height={800} style={{ position: 'absolute', left: 0, top: 0, width: 1491, height: 800 }} />
      <svg width={45} height={35} viewBox="0 0 36 28" style={{ position: 'absolute', left: 18, top: 738 }}>
        <path d="M14 22H7V11H0V4h14v18zM28 22h-8l7.5-18h8L28 22z" fill="#131722" />
        <circle cx="20" cy="8" r="4" fill="#131722" />
      </svg>
      <span
        style={{
          position: 'absolute', left: 71, top: 740, fontFamily: "Inter, 'Noto Sans', sans-serif",
          fontWeight: 700, fontSize: 30, lineHeight: '29px', color: '#131722', letterSpacing: '-0.3px',
          whiteSpace: 'nowrap',
        }}
      >
        TradingView
      </span>
    </div>
  );
}
